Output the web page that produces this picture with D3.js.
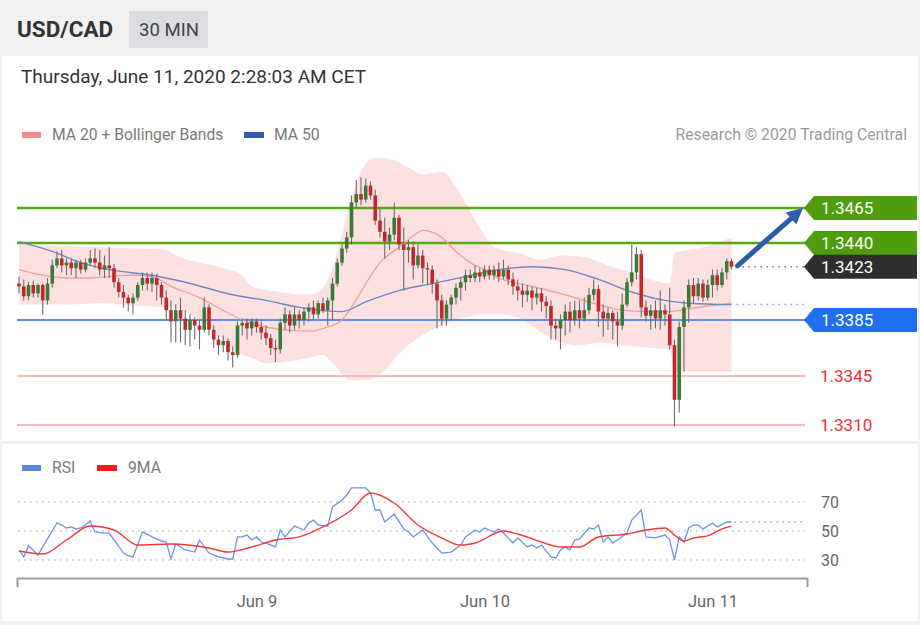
<!DOCTYPE html>
<html><head><meta charset="utf-8">
<script src="https://cdn.jsdelivr.net/npm/d3@7"></script>
<style>html,body{margin:0;padding:0;background:#fff;} svg{display:block;font-family:Roboto,"Liberation Sans",Arial,sans-serif;}</style>
</head><body><svg id="c" width="920" height="625"></svg>
<script>
// ---------- DATA ----------
const startTime = Date.UTC(2020, 5, 7, 23, 0); // first 30-min candle
const stepMs = 30 * 60 * 1000;
const opens = [
1.3411,1.3409,1.3402,1.3410,1.3404,1.3410,1.3399,1.3411,1.3424,1.3429,
1.3424,1.3426,1.3422,1.3426,1.3421,1.3426,1.3429,1.3426,1.3421,1.3424,
1.3422,1.3412,1.3405,1.3401,1.3397,1.3401,1.3410,1.3415,1.3411,1.3415,
1.3410,1.3401,1.3392,1.3384,1.3392,1.3386,1.3378,1.3385,1.3381,1.3378,
1.3394,1.3378,1.3371,1.3367,1.3370,1.3362,1.3360,1.3381,1.3383,1.3379,
1.3384,1.3380,1.3376,1.3372,1.3365,1.3364,1.3383,1.3389,1.3381,1.3389,
1.3385,1.3391,1.3394,1.3389,1.3397,1.3392,1.3399,1.3411,1.3426,1.3436,
1.3444,1.3469,1.3475,1.3471,1.3481,1.3474,1.3456,1.3448,1.3441,1.3446,
1.3458,1.3439,1.3435,1.3437,1.3424,1.3431,1.3422,1.3421,1.3411,1.3399,
1.3386,1.3396,1.3401,1.3408,1.3412,1.3417,1.3415,1.3419,1.3416,1.3421,
1.3417,1.3421,1.3416,1.3421,1.3414,1.3409,1.3406,1.3403,1.3406,1.3401,
1.3404,1.3398,1.3395,1.3381,1.3379,1.3385,1.3391,1.3385,1.3392,1.3386,
1.3392,1.3403,1.3407,1.3391,1.3386,1.3390,1.3384,1.3381,1.3396,1.3412,
1.3419,1.3432,1.3394,1.3388,1.3392,1.3386,1.3392,1.3389,1.3367,1.3328,
1.3380,1.3394,1.3410,1.3402,1.3411,1.3401,1.3410,1.3417,1.3410,1.3419,1.3427];
const closes = [
1.3409,1.3402,1.3410,1.3404,1.3410,1.3399,1.3411,1.3424,1.3429,1.3424,
1.3426,1.3422,1.3426,1.3421,1.3426,1.3429,1.3426,1.3421,1.3424,1.3422,
1.3412,1.3405,1.3401,1.3397,1.3401,1.3410,1.3415,1.3411,1.3415,1.3410,
1.3401,1.3392,1.3384,1.3392,1.3386,1.3378,1.3385,1.3381,1.3378,1.3394,
1.3378,1.3371,1.3367,1.3370,1.3362,1.3360,1.3381,1.3383,1.3379,1.3384,
1.3380,1.3376,1.3372,1.3365,1.3364,1.3383,1.3389,1.3381,1.3389,1.3385,
1.3391,1.3394,1.3389,1.3397,1.3392,1.3399,1.3411,1.3426,1.3436,1.3444,
1.3469,1.3475,1.3471,1.3481,1.3474,1.3456,1.3448,1.3441,1.3446,1.3458,
1.3439,1.3435,1.3437,1.3424,1.3431,1.3422,1.3421,1.3411,1.3399,1.3386,
1.3396,1.3401,1.3408,1.3412,1.3417,1.3415,1.3419,1.3416,1.3421,1.3417,
1.3421,1.3416,1.3421,1.3414,1.3409,1.3406,1.3403,1.3406,1.3401,1.3404,
1.3398,1.3395,1.3381,1.3379,1.3385,1.3391,1.3385,1.3392,1.3386,1.3392,
1.3403,1.3407,1.3391,1.3386,1.3390,1.3384,1.3381,1.3396,1.3412,1.3419,
1.3432,1.3394,1.3388,1.3392,1.3386,1.3392,1.3389,1.3367,1.3328,1.3380,
1.3394,1.3410,1.3402,1.3411,1.3401,1.3410,1.3417,1.3410,1.3419,1.3427,1.3423];
const highs = [
1.3416,1.3414,1.3412,1.3413,1.3411,1.3411,1.3415,1.3428,1.3434,1.3435,
1.3429,1.3429,1.3428,1.3428,1.3429,1.3435,1.3436,1.3435,1.3431,1.3437,
1.3425,1.3415,1.3410,1.3403,1.3404,1.3412,1.3419,1.3419,1.3419,1.3418,
1.3412,1.3406,1.3399,1.3396,1.3401,1.3392,1.3389,1.3387,1.3385,1.3401,
1.3396,1.3381,1.3374,1.3374,1.3372,1.3366,1.3384,1.3386,1.3386,1.3386,
1.3386,1.3384,1.3381,1.3375,1.3371,1.3386,1.3394,1.3392,1.3394,1.3392,
1.3394,1.3397,1.3399,1.3399,1.3401,1.3401,1.3415,1.3429,1.3439,1.3448,
1.3474,1.3485,1.3487,1.3486,1.3484,1.3478,1.3465,1.3458,1.3451,1.3469,
1.3460,1.3451,1.3442,1.3441,1.3439,1.3435,1.3426,1.3424,1.3414,1.3403,
1.3399,1.3403,1.3411,1.3415,1.3421,1.3421,1.3424,1.3422,1.3424,1.3424,
1.3424,1.3426,1.3428,1.3424,1.3419,1.3414,1.3411,1.3410,1.3409,1.3408,
1.3408,1.3402,1.3399,1.3386,1.3389,1.3396,1.3398,1.3399,1.3399,1.3401,
1.3408,1.3414,1.3410,1.3396,1.3394,1.3392,1.3391,1.3404,1.3415,1.3439,
1.3437,1.3435,1.3399,1.3396,1.3399,1.3406,1.3396,1.3408,1.3371,1.3384,
1.3399,1.3414,1.3415,1.3415,1.3414,1.3414,1.3421,1.3421,1.3422,1.3429,1.3429];
const lows = [
1.3404,1.3399,1.3399,1.3401,1.3401,1.3389,1.3396,1.3408,1.3422,1.3419,
1.3417,1.3417,1.3415,1.3418,1.3419,1.3424,1.3422,1.3417,1.3415,1.3415,
1.3408,1.3401,1.3394,1.3391,1.3389,1.3399,1.3406,1.3406,1.3405,1.3399,
1.3396,1.3385,1.3369,1.3369,1.3369,1.3367,1.3366,1.3371,1.3364,1.3376,
1.3374,1.3365,1.3360,1.3362,1.3356,1.3351,1.3358,1.3374,1.3371,1.3374,
1.3376,1.3371,1.3367,1.3360,1.3355,1.3361,1.3378,1.3376,1.3378,1.3379,
1.3381,1.3384,1.3385,1.3386,1.3390,1.3381,1.3385,1.3409,1.3424,1.3433,
1.3439,1.3465,1.3467,1.3469,1.3471,1.3453,1.3444,1.3429,1.3435,1.3442,
1.3435,1.3406,1.3426,1.3414,1.3422,1.3411,1.3410,1.3404,1.3379,1.3381,
1.3381,1.3385,1.3396,1.3399,1.3406,1.3412,1.3412,1.3412,1.3414,1.3414,
1.3414,1.3412,1.3414,1.3410,1.3403,1.3399,1.3394,1.3398,1.3392,1.3396,
1.3391,1.3386,1.3371,1.3371,1.3364,1.3374,1.3376,1.3381,1.3379,1.3384,
1.3389,1.3399,1.3380,1.3373,1.3378,1.3371,1.3366,1.3378,1.3394,1.3409,
1.3414,1.3387,1.3384,1.3378,1.3379,1.3378,1.3381,1.3364,1.3309,1.3319,
1.3348,1.3383,1.3397,1.3399,1.3398,1.3399,1.3401,1.3406,1.3408,1.3414,1.3421];

// Moving averages and Bollinger bands (candle index, price)
const ma50Idx = [0,7,13,19,28,35,45,52,59,68,73,80,87,94,101,108,115,122,129,136,141,150];
const ma50Val = [1.3441,1.3434,1.3426,1.3421,1.3417,1.3412,1.3403,1.3399,1.3394,1.3391,1.3398,1.3406,1.3411,1.3416,1.3421,1.3423,1.3421,1.3414,1.3405,1.3399,1.3397,1.3396];
const ma20Idx = [0,5,10,15,19,24,28,32,38,44,47,52,56,61,65,68,70,73,76,80,83,85,89,92,95,98,101,108,115,122,127,132,137,141,145,150];
const ma20Val = [1.3421,1.3417,1.3415,1.3415,1.3416,1.3417,1.3416,1.3409,1.3401,1.3390,1.3385,1.3380,1.3378,1.3377,1.3380,1.3385,1.3394,1.3411,1.3426,1.3437,1.3445,1.3449,1.3444,1.3434,1.3426,1.3421,1.3415,1.3409,1.3403,1.3396,1.3392,1.3391,1.3391,1.3393,1.3395,1.3397];
const bandUpIdx = [0,9,17,25,31,33,38,43,47,49,55,61,64,66,68,70,72,75,79,82,85,89,92,94,97,100,105,110,114,119,124,129,133,137,138,143,150];
const bandUpVal = [1.3439,1.3438,1.3437,1.3436,1.3435,1.3431,1.3426,1.3422,1.3417,1.3409,1.3405,1.3403,1.3408,1.3422,1.3446,1.3472,1.3491,1.3501,1.3499,1.3494,1.3489,1.3491,1.3480,1.3469,1.3451,1.3437,1.3433,1.3428,1.3431,1.3430,1.3424,1.3419,1.3414,1.3411,1.3433,1.3436,1.3444];
const bandLoIdx = [0,9,17,25,32,38,43,45,49,52,58,61,64,66,70,73,77,80,84,89,93,97,101,106,110,114,118,122,127,133,137,138,150];
const bandLoVal = [1.3396,1.3396,1.3397,1.3395,1.3394,1.3385,1.3371,1.3364,1.3358,1.3354,1.3356,1.3358,1.3360,1.3354,1.3342,1.3342,1.3349,1.3361,1.3372,1.3381,1.3386,1.3389,1.3389,1.3385,1.3376,1.3369,1.3367,1.3369,1.3367,1.3365,1.3364,1.3348,1.3348];

// RSI and its 9-period MA (candle index, value)
const rsiIdx = [0,1,2,3,4,5,8,9,10,11,12,13,14,15,16,18,19,20,22,23,24,26,28,30,31,32,33,35,37,38,40,42,44,45,46,47,48,49,50,51,52,54,55,56,58,60,61,62,63,65,66,68,69,70,73,74,75,76,77,79,81,82,83,85,87,89,91,93,94,96,97,98,100,101,102,104,105,107,108,109,110,112,113,114,115,116,117,118,120,121,122,123,124,125,126,128,129,131,132,134,136,137,138,139,140,141,142,143,144,146,147,149,150];
const rsiVal = [36.9,32.1,39.7,36.9,33.4,39.0,55.5,54.1,52.1,52.8,51.4,52.1,54.1,56.9,49.3,48.6,48.6,43.8,34.8,32.8,32.1,49.3,45.9,43.1,42.4,30.7,41.0,36.9,35.5,43.8,34.8,32.1,30.7,30.7,45.9,45.9,47.2,43.8,45.9,42.4,41.7,39.0,50.7,45.9,53.4,50.7,55.5,57.6,54.1,53.4,66.6,71.4,74.8,79.7,79.7,76.2,64.5,64.5,56.2,61.7,51.4,49.3,45.9,50.7,41.7,34.8,35.5,40.3,45.9,50.7,49.3,52.1,49.3,51.4,48.6,41.7,45.2,39.0,40.3,38.3,40.3,32.1,31.4,36.9,39.0,36.9,43.8,44.5,52.1,51.4,54.1,42.4,45.9,41.7,43.8,48.6,57.6,64.5,45.9,45.2,47.2,43.8,30.0,45.9,42.4,52.1,54.1,54.1,51.4,55.5,52.8,56.2,56.2];
const rsiMaIdx = [0,5,10,15,20,25,32,40,44,49,54,59,64,70,74,79,84,89,93,96,102,105,110,114,118,122,128,132,136,138,140,142,145,148,150];
const rsiMaVal = [36.2,34.1,43.8,53.4,50.7,40.3,41.0,38.3,35.5,39.0,43.8,45.9,52.8,64.5,76.2,69.3,54.1,45.2,40.3,41.7,50.0,47.9,42.4,39.0,39.0,45.9,47.9,50.7,52.1,47.2,43.1,45.2,46.6,51.4,53.4];

// Key levels
const levelValues = [1.3465, 1.3440, 1.3423, 1.3385, 1.3345, 1.3310];
const levelKinds  = ["resistance","resistance","last","pivot","support","support"];
const rsiTicks = [70, 50, 30];
const dateTicks = [Date.UTC(2020,5,9), Date.UTC(2020,5,10), Date.UTC(2020,5,11)];

// ---------- DRAW ----------
const svg = d3.select("#c");
const timeAt = i => new Date(startTime + i * stepMs);

svg.append("rect").attr("width",920).attr("height",625).attr("fill","#f1f1f2");
svg.append("rect").attr("x",2).attr("y",56).attr("width",916).attr("height",385).attr("fill","#fff");
svg.append("rect").attr("x",2).attr("y",444).attr("width",916).attr("height",177).attr("fill","#fff");

// header
svg.append("text").attr("x",17).attr("y",37).attr("font-size",22.5).attr("font-weight","bold").attr("fill","#333").text("USD/CAD");
svg.append("rect").attr("x",129).attr("y",11).attr("width",79).attr("height",37).attr("fill","#dcdde2");
svg.append("text").attr("x",139).attr("y",36).attr("font-size",18.6).attr("fill","#444").text("30 MIN");
svg.append("text").attr("x",21).attr("y",83).attr("font-size",19).attr("fill","#333").text("Thursday, June 11, 2020 2:28:03 AM CET");

// legend
svg.append("rect").attr("x",22).attr("y",132).attr("width",19).attr("height",6).attr("fill","#f28b8b");
svg.append("text").attr("x",52).attr("y",140).attr("font-size",15.7).attr("fill","#7a7a7a").text("MA 20 + Bollinger Bands");
svg.append("rect").attr("x",244).attr("y",132).attr("width",20).attr("height",6).attr("fill","#2f5ca8");
svg.append("text").attr("x",274).attr("y",140).attr("font-size",15.7).attr("fill","#7a7a7a").text("MA 50");
svg.append("text").attr("x",907).attr("y",140).attr("text-anchor","end").attr("font-size",15.8).attr("fill","#9a9a9a").text("Research \u00A9 2020 Trading Central");

// scales
const x = d3.scaleTime().domain([timeAt(-0.42), timeAt(165.9)]).range([17, 807]);
const y = d3.scaleLinear().domain([1.3310, 1.3465]).range([425, 208]);
const yr = d3.scaleLinear().domain([30, 70]).range([560, 502]);
const xi = i => x(timeAt(i));

// Bollinger band (upper edge forward, lower edge back)
const edge = d3.line().x(d=>xi(d.i)).y(d=>y(d.v)).curve(d3.curveMonotoneX);
const upPath = edge(bandUpIdx.map((i,k)=>({i, v: bandUpVal[k]})));
const loPath = edge(bandLoIdx.map((i,k)=>({i, v: bandLoVal[k]})).reverse());
svg.append("path").attr("d", upPath + "L" + loPath.slice(1) + "Z").attr("fill","#fddcdc").attr("opacity",0.85);

// level lines
const lineStyle = {
  resistance: {stroke:"#58a812", w:2.5},
  pivot: {stroke:"#5d8fe6", w:2.2},
  support: {stroke:"#f5a7a7", w:1.5}
};
levelValues.forEach((v,k)=>{
  const kind = levelKinds[k];
  if (kind === "last") return;
  const s = lineStyle[kind];
  svg.append("line").attr("x1",17).attr("x2",805).attr("y1",y(v)).attr("y2",y(v))
    .attr("stroke",s.stroke).attr("stroke-width",s.w);
});

// MA lines
const ma = d3.line().x(d=>xi(d.i)).y(d=>y(d.v)).curve(d3.curveMonotoneX);
svg.append("path").attr("d", ma(ma20Idx.map((i,k)=>({i,v:ma20Val[k]})))).attr("fill","none").attr("stroke","#f39c9c").attr("stroke-width",1.3);
svg.append("path").attr("d", ma(ma50Idx.map((i,k)=>({i,v:ma50Val[k]})))).attr("fill","none").attr("stroke","#7086c4").attr("stroke-width",1.4);

// candles
const candles = closes.map((c,i)=>({i, o:opens[i], h:highs[i], l:lows[i], c}));
const g = svg.append("g");
g.selectAll("line.wick").data(candles).join("line").attr("class","wick")
  .attr("x1",d=>xi(d.i)).attr("x2",d=>xi(d.i)).attr("y1",d=>y(d.h)).attr("y2",d=>y(d.l))
  .attr("stroke","#6b6b6b").attr("stroke-width",1.1);
g.selectAll("rect.body").data(candles).join("rect").attr("class","body")
  .attr("x",d=>xi(d.i)-1.8).attr("width",3.6)
  .attr("y",d=>y(Math.max(d.o,d.c)))
  .attr("height",d=>Math.max(1, Math.abs(y(d.o)-y(d.c))))
  .attr("fill",d=> d.c>=d.o ? "#3a7a35" : "#c3262b");

// dotted extensions
const lastI = closes.length-1;
svg.append("line").attr("x1",xi(lastI)+5).attr("x2",805).attr("y1",y(closes[lastI])).attr("y2",y(closes[lastI]))
  .attr("stroke","#777").attr("stroke-width",1.5).attr("stroke-dasharray","1.5,4.5");
svg.append("line").attr("x1",xi(lastI)+5).attr("x2",805).attr("y1",y(ma50Val[ma50Val.length-1])).attr("y2",y(ma50Val[ma50Val.length-1]))
  .attr("stroke","#8a9bd0").attr("stroke-width",1.5).attr("stroke-dasharray","1.5,4.5");

// arrow
const ax0 = xi(lastI)+6, ay0 = y(closes[lastI]) - 1;
const ax1 = 803, ay1 = y(levelValues[0]);
const ang = Math.atan2(ay1-ay0, ax1-ax0);
const hl = 16, hw = 8;
const bx = ax1 - hl*Math.cos(ang), by = ay1 - hl*Math.sin(ang);
svg.append("line").attr("x1",ax0).attr("y1",ay0).attr("x2",bx+2*Math.cos(ang)).attr("y2",by+2*Math.sin(ang))
  .attr("stroke","#2b5fab").attr("stroke-width",5).attr("stroke-linecap","round");
svg.append("polygon").attr("points",[
  [ax1,ay1],
  [bx + hw*Math.sin(ang), by - hw*Math.cos(ang)],
  [bx - hw*Math.sin(ang), by + hw*Math.cos(ang)]
].map(p=>p.join(",")).join(" ")).attr("fill","#2b5fab");

// level labels
const labelFill = {resistance:"#4f9d0d", last:"#2e2e2e", pivot:"#1f6ff0"};
levelValues.forEach((v,k)=>{
  const kind = levelKinds[k];
  const yy = y(v);
  if (kind === "support") {
    svg.append("text").attr("x",820).attr("y",yy+6).attr("font-size",17).attr("fill","#e8323b").text(v.toFixed(4));
  } else {
    svg.append("polygon").attr("points",`804,${yy} 814,${yy-12} 917,${yy-12} 917,${yy+12} 814,${yy+12}`).attr("fill",labelFill[kind]);
    svg.append("text").attr("x",821).attr("y",yy+6).attr("font-size",17).attr("fill","#fff").text(v.toFixed(4));
  }
});

// RSI panel
svg.append("rect").attr("x",22).attr("y",465).attr("width",19).attr("height",6).attr("fill","#5b86e0");
svg.append("text").attr("x",52).attr("y",473).attr("font-size",15.7).attr("fill","#7a7a7a").text("RSI");
svg.append("rect").attr("x",97).attr("y",465).attr("width",20).attr("height",6).attr("fill","#f01c1c");
svg.append("text").attr("x",128).attr("y",473).attr("font-size",15.7).attr("fill","#7a7a7a").text("9MA");

rsiTicks.forEach(t=>{
  svg.append("line").attr("x1",18).attr("x2",805).attr("y1",yr(t)).attr("y2",yr(t))
    .attr("stroke","#c4c4c4").attr("stroke-width",1.5).attr("stroke-dasharray","1.5,4.5");
  svg.append("text").attr("x",821).attr("y",yr(t)+6).attr("font-size",16).attr("fill","#666").text(t);
});
svg.append("line").attr("x1",xi(lastI)+3).attr("x2",805).attr("y1",yr(rsiVal[rsiVal.length-1])).attr("y2",yr(rsiVal[rsiVal.length-1]))
  .attr("stroke","#8aa4e6").attr("stroke-width",1.5).attr("stroke-dasharray","1.5,4.5");

const rl = d3.line().x(d=>xi(d.i)).y(d=>yr(d.v));
svg.append("path").attr("d", rl(rsiIdx.map((i,k)=>({i,v:rsiVal[k]})))).attr("fill","none").attr("stroke","#6f93e3").attr("stroke-width",1.3);
svg.append("path").attr("d", rl.curve(d3.curveMonotoneX)(rsiMaIdx.map((i,k)=>({i,v:rsiMaVal[k]})))).attr("fill","none").attr("stroke","#f2393a").attr("stroke-width",1.4);

// time axis
const axis = d3.axisBottom(x).tickValues(dateTicks.map(t=>new Date(t))).tickFormat(d3.utcFormat("%b %-d"))
  .tickSizeInner(0).tickSizeOuter(9).tickPadding(17);
const ag = svg.append("g").attr("transform","translate(0,578)").call(axis);
ag.select(".domain").attr("stroke","#9d9d9d").attr("stroke-width",2);
ag.selectAll("text").attr("font-size",16.5).attr("fill","#666").attr("font-family","Roboto,'Liberation Sans',Arial,sans-serif");
</script>
</body></html>
